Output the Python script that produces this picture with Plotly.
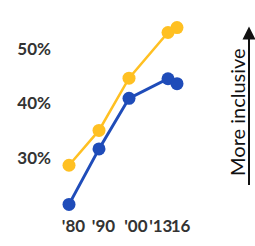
import plotly.graph_objects as go

years = [1980, 1990, 2000, 2013, 2016]
yellow_vals = [28.6, 35.0, 44.6, 53.0, 53.9]
blue_vals = [21.4, 31.6, 40.9, 44.5, 43.6]
x_tick_labels = ["'80", "'90", "'00", "'13", "16"]
x_tick_pos = [1981.5, 1991.5, 2002.3, 2010.6, 2017.2]
y_tick_vals = [30, 40, 50]
y_tick_labels = ["30%", "40%", "50%"]

W, H = 255, 246
ml, mr, mt, mb = 52, 45, 10, 28

fig = go.Figure()
fig.add_trace(go.Scatter(x=years, y=yellow_vals, mode="lines+markers",
                         line=dict(color="#FFC022", width=2.5),
                         marker=dict(size=13, color="#FFC022"), showlegend=False))
fig.add_trace(go.Scatter(x=years, y=blue_vals, mode="lines+markers",
                         line=dict(color="#1F4CB9", width=3),
                         marker=dict(size=13, color="#1F4CB9"), showlegend=False))

pw = W - ml - mr
ph = H - mt - mb

fig.add_annotation(text="More inclusive", xref="paper", yref="paper",
                   x=(237 - ml) / pw, y=(H - mb - 115) / ph, textangle=-90,
                   showarrow=False, font=dict(family="Lato", size=20, color="#111"),
                   xanchor="center", yanchor="middle")
fig.add_annotation(text="", xref="paper", yref="paper",
                   x=(249 - ml) / pw, y=(H - mb - 27) / ph,
                   ax=0, ay=160, showarrow=True, arrowhead=2, arrowsize=1.3,
                   arrowwidth=2, arrowcolor="#111")

fig.update_layout(
    width=W, height=H, margin=dict(l=ml, r=mr, t=mt, b=mb),
    paper_bgcolor="white", plot_bgcolor="white",
    font=dict(family="Lato", color="#333"),
    xaxis=dict(range=[1974.33, 2027], tickvals=x_tick_pos, ticktext=x_tick_labels,
               tickangle=0, showgrid=False, zeroline=False, showline=False,
               ticks="", ticklabelstandoff=2,
               tickfont=dict(size=17, color="#333", weight="bold")),
    yaxis=dict(range=[20, 57.14], tickvals=y_tick_vals, ticktext=y_tick_labels,
               showgrid=False, zeroline=False, showline=False, ticks="",
               tickfont=dict(size=17, color="#333", weight="bold")),
)
fig.write_html("out.html", config={"displayModeBar": False},
               post_script="document.body.style.margin='0';document.body.style.overflow='hidden';")
